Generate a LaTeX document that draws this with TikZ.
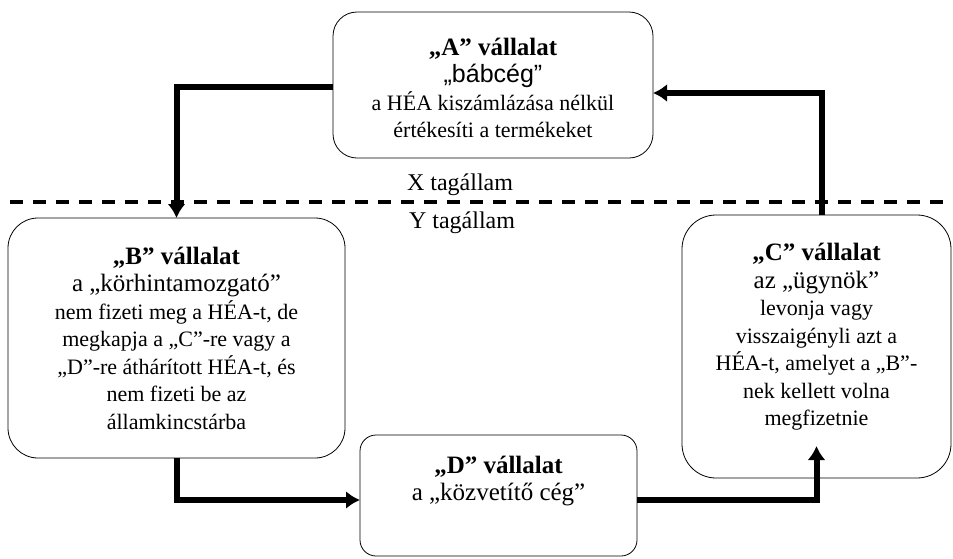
\documentclass[tikz,border=0pt]{standalone}
\usepackage{fontspec}
\setmainfont{Liberation Serif}
\newfontfamily\quotesans{Liberation Sans}
\usetikzlibrary{arrows.meta}
\tikzset{
  company/.style={draw, line width=0.8pt, rounded corners=#1, inner sep=0pt, outer sep=0pt},
  companytext/.style={align=center, font=\fontsize{22}{27.5}\selectfont},
  flow/.style={line width=6pt, -{Latex[length=14pt,width=18pt]}},
}
\newcommand{\firmname}[1]{{\fontsize{25}{27.5}\selectfont\bfseries #1}}
\newcommand{\firmrole}[1]{{\fontsize{25}{27.5}\selectfont #1}}

\begin{document}
\begin{tikzpicture}[x=1pt,y=-1pt]
    \useasboundingbox (0,0) rectangle (953,558);
    % member states
    \draw[line width=4.5pt, dash pattern=on 13pt off 10pt] (10,202) -- (953,202);
    \node[font=\fontsize{24}{26}\selectfont] (X) at (460,185) {X tagállam};
    \node[font=\fontsize{24}{26}\selectfont] (Y) at (462,223) {Y tagállam};
    % companies
    \node[company=24pt, minimum width=320pt, minimum height=146pt] (A) at (493,85) {};
    \node[company=30pt, minimum width=337pt, minimum height=240pt] (B) at (176.5,338) {};
    \node[company=34pt, minimum width=269pt, minimum height=263pt] (C) at (816.5,346.5) {};
    \node[company=16pt, minimum width=277pt, minimum height=121pt] (D) at (498.5,495.5) {};
    \node[companytext] (At) at (493,88) {\firmname{„A” vállalat}\\
        \firmrole{\quotesans „bábcég”}\\
        a HÉA kiszámlázása nélkül\\
        értékesíti a termékeket};
    \node[companytext] (Bt) at (176.5,338) {\firmname{„B” vállalat}\\
        \firmrole{a „körhintamozgató”}\\
        nem fizeti meg a HÉA-t, de\\
        megkapja a „C”-re vagy a\\
        „D”-re áthárított HÉA-t, és\\
        nem fizeti be az\\
        államkincstárba};
    \node[companytext] (Ct) at (816.5,337) {\firmname{„C” vállalat}\\
        \firmrole{az „ügynök”}\\
        levonja vagy\\
        visszaigényli azt a\\
        HÉA-t, amelyet a „B”-\\
        nek kellett volna\\
        megfizetnie};
    \node[companytext] (Dt) at (498.5,481) {\firmname{„D” vállalat}\\
        \firmrole{a „közvetítő cég”}};
    % VAT carousel
    \draw[flow] ([yshift=-2pt]A.west) -| (B.north);
    \draw[flow] (B.south) |- ([yshift=-4.5pt]D.west);
    \draw[flow] ([yshift=-4.5pt]D.east) -| ([yshift=32pt]C.south);
    \draw[flow] ([xshift=5pt]C.north) |- ([yshift=-8pt]A.east);
\end{tikzpicture}
\end{document}
